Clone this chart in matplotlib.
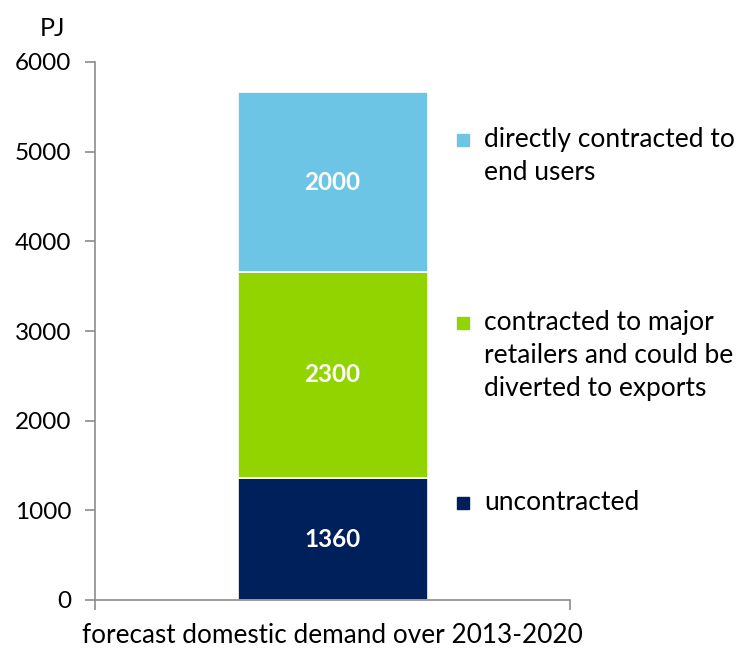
import matplotlib as mpl
mpl.use('Agg')
from matplotlib import pyplot as plt
import matplotlib.patches as patches

plt.rcParams['font.family'] = ['Lato', 'DejaVu Sans']

# data
category = ['forecast domestic demand over 2013-2020']
segments = ['uncontracted',
            'contracted to major\nretailers and could be\ndiverted to exports',
            'directly contracted to\nend users']
values = [1360, 2300, 2000]
colors = ['#00205B', '#92D400', '#6DC5E5']
yticks = [0, 1000, 2000, 3000, 4000, 5000, 6000]

fig = plt.figure(figsize=(7.38, 6.48), dpi=100)
ax = fig.add_axes([95/738, 1-600/648, (570-95)/738, (600-62)/648])

bottom = 0
for v, c in zip(values, colors):
    ax.bar(0, v, width=0.4, bottom=bottom, color=c, edgecolor='white', linewidth=1.2)
    ax.text(0, bottom + v/2, str(v), ha='center', va='center', color='white',
            fontsize=17.5, fontweight='bold')
    bottom += v

ax.set_xlim(-0.5, 0.5)
ax.set_ylim(0, 6000)
ax.set_yticks(yticks)
ax.set_yticklabels([str(t) for t in yticks], fontsize=17.5)
ax.set_xticks([-0.5, 0.5])
ax.set_xticklabels(['', ''])
ax.set_xlabel(category[0], fontsize=18.8, labelpad=6)

for s in ['top', 'right']:
    ax.spines[s].set_visible(False)
for s in ['left', 'bottom']:
    ax.spines[s].set_color('#8c8c8c')
    ax.spines[s].set_linewidth(1.2)
ax.tick_params(axis='both', colors='#8c8c8c', length=7, width=1.2, labelcolor='black')
ax.tick_params(axis='y', pad=10)

fig.text(40/738, 1-28/648, 'PJ', fontsize=18, va='center', ha='left')

# legend, placed by hand to keep the uneven spacing
legend_y = [140, 323, 503]
for lab, c, y in zip(segments[::-1], colors[::-1], legend_y):
    fig.patches.append(patches.Rectangle((457/738, 1-(y+6)/648), 12/738, 12/648,
                                         transform=fig.transFigure, color=c))
    fig.text(484/738, 1-(y-13)/648, lab, fontsize=19, va='top', ha='left',
             linespacing=1.4)

plt.savefig('out.png', dpi=100)
plt.close()
